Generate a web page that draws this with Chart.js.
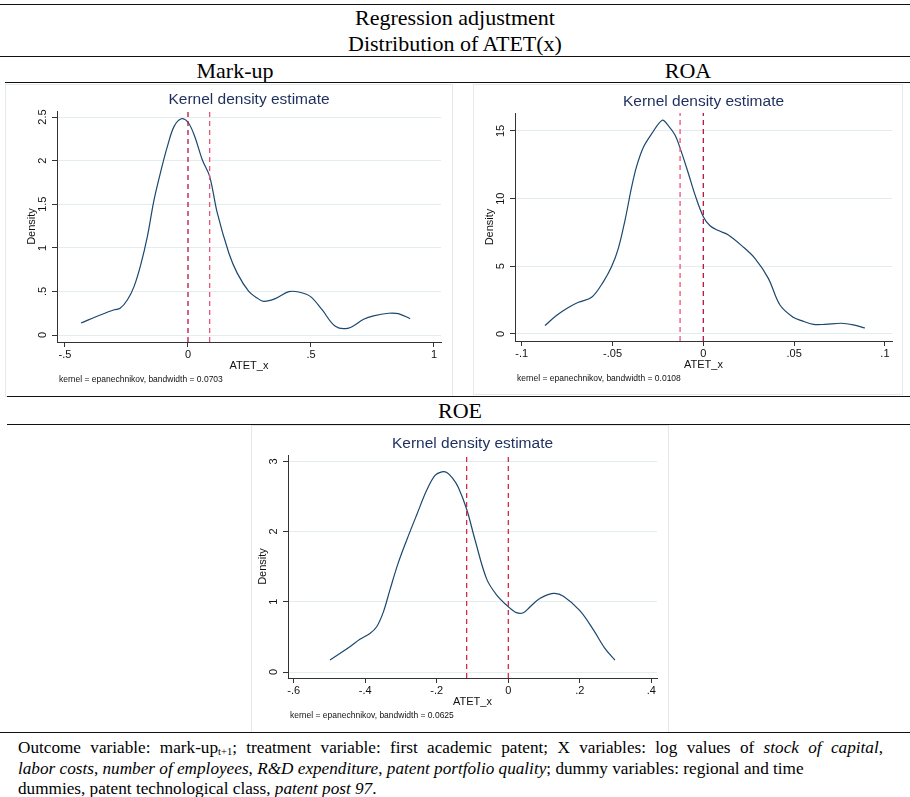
<!DOCTYPE html>
<html>
<head>
<meta charset="utf-8">
<script src="https://cdn.jsdelivr.net/npm/chart.js@4.4.1/dist/chart.umd.min.js"></script>
<style>
  body { margin: 0; background: #fff; }
  #page { position: relative; width: 910px; height: 797px; overflow: hidden;
          font-family: "Liberation Serif", "Times New Roman", serif; color: #000; }
  .rule { position: absolute; height: 0; border-top: 1.5px solid #111; }
  .head { position: absolute; text-align: center; font-size: 22px; line-height: 26px; white-space: nowrap; }
  .panel { position: absolute; background: #fff; border: 1px solid #e3eaea; box-sizing: border-box; }
  canvas { position: absolute; }
  .fn { position: absolute; left: 18px; font-size: 17.2px; line-height: 20px; white-space: nowrap; }
  .fn.just { width: 865px; text-align: justify; text-align-last: justify; }
  .fn sub { font-size: 10.5px; vertical-align: -2px; line-height: 0; }
</style>
</head>
<body>
<div id="page">
  <div class="rule" style="left:0;width:910px;top:4px"></div>
  <div class="head" style="left:0;width:910px;top:5px">Regression adjustment</div>
  <div class="head" style="left:0;width:910px;top:31px">Distribution of ATET(x)</div>
  <div class="rule" style="left:0;width:910px;top:56px"></div>
  <div class="head" style="left:135px;width:200px;top:58px">Mark-up</div>
  <div class="head" style="left:588px;width:200px;top:58px">ROA</div>
  <div class="rule" style="left:5px;width:905px;top:82px"></div>

  <div class="panel" style="left:5px;top:84px;width:448px;height:313px"></div>
  <div class="panel" style="left:473px;top:84px;width:430px;height:311px"></div>
  <canvas id="markup" width="447" height="313" style="left:5px;top:84px"></canvas>
  <canvas id="roa" width="429" height="311" style="left:473px;top:84px"></canvas>

  <div class="rule" style="left:7px;width:903px;top:396px"></div>
  <div class="head" style="left:360px;width:200px;top:398px">ROE</div>
  <div class="rule" style="left:7px;width:903px;top:424px"></div>
  <div class="panel" style="left:251px;top:425px;width:418px;height:308px"></div>
  <canvas id="roe" width="417" height="306" style="left:251px;top:426px"></canvas>
  <div class="rule" style="left:0;width:910px;top:732px"></div>

  <div class="fn just" style="top:738px">Outcome variable: mark-up<sub>t+1</sub>; treatment variable: first academic patent; X variables: log values of <i>stock of capital</i>,</div>
  <div class="fn" style="top:758.5px"><i>labor costs</i>, <i>number of employees</i>, <i>R&amp;D expenditure</i>, <i>patent portfolio quality</i>; dummy variables: regional and time</div>
  <div class="fn" style="top:779px">dummies, patent technological class, <i>patent post 97</i>.</div>
</div>

<script>
// Mark-up
const markupX = [-0.435, -0.354, -0.30, -0.276, -0.246, -0.219, -0.192, -0.165, -0.138, -0.104, -0.084, -0.057, -0.027, 0.0, 0.027, 0.058, 0.088, 0.119, 0.166, 0.20, 0.247, 0.281, 0.308, 0.355, 0.41, 0.45, 0.497, 0.545, 0.599, 0.653, 0.714, 0.754, 0.815, 0.855, 0.903];
const markupY = [0.138, 0.233, 0.29, 0.306, 0.405, 0.558, 0.807, 1.13, 1.55, 1.95, 2.16, 2.39, 2.48, 2.44, 2.28, 2.01, 1.82, 1.40, 0.94, 0.71, 0.50, 0.424, 0.386, 0.417, 0.497, 0.493, 0.443, 0.29, 0.10, 0.08, 0.18, 0.22, 0.25, 0.245, 0.187];
const markupXTicks = [-0.5, 0, 0.5, 1];
const markupYTicks = [0, 0.5, 1, 1.5, 2, 2.5];
const markupLines = [0, 0.088];
const markupNote = "kernel = epanechnikov, bandwidth = 0.0703";

// ROA
const roaX = [-0.0872, -0.0807, -0.0743, -0.0688, -0.0615, -0.055, -0.0505, -0.0468, -0.0431, -0.0394, -0.0367, -0.033, -0.0284, -0.0226, -0.0193, -0.0156, -0.0127, -0.0083, -0.0046, 0.0, 0.0037, 0.0083, 0.0138, 0.0211, 0.0284, 0.0358, 0.0422, 0.0495, 0.0541, 0.0606, 0.067, 0.0761, 0.0826, 0.089];
const roaY = [0.62, 1.38, 1.95, 2.34, 2.71, 3.87, 4.98, 6.33, 8.42, 10.9, 12.4, 13.8, 14.8, 15.8, 15.4, 14.7, 13.7, 11.9, 10.3, 8.67, 8.0, 7.64, 7.32, 6.53, 5.59, 4.11, 2.14, 1.23, 0.985, 0.71, 0.71, 0.79, 0.67, 0.44];
const roaXTicks = [-0.1, -0.05, 0, 0.05, 0.1];
const roaYTicks = [0, 5, 10, 15];
const roaLines = [-0.0128, 0];
const roaNote = "kernel = epanechnikov, bandwidth = 0.0108";

// ROE
const roeX = [-0.4986, -0.443, -0.415, -0.387, -0.368, -0.349, -0.331, -0.308, -0.284, -0.256, -0.228, -0.205, -0.186, -0.172, -0.156, -0.14, -0.116, -0.093, -0.061, -0.033, 0.0, 0.023, 0.042, 0.061, 0.089, 0.126, 0.154, 0.20, 0.238, 0.27, 0.298];
const roeY = [0.171, 0.36, 0.465, 0.55, 0.645, 0.86, 1.17, 1.55, 1.88, 2.24, 2.59, 2.80, 2.85, 2.84, 2.76, 2.63, 2.31, 1.88, 1.33, 1.10, 0.93, 0.845, 0.845, 0.93, 1.05, 1.12, 1.08, 0.873, 0.60, 0.337, 0.171];
const roeXTicks = [-0.6, -0.4, -0.2, 0, 0.2, 0.4];
const roeYTicks = [0, 1, 2, 3];
const roeLines = [-0.1165, 0];
const roeNote = "kernel = epanechnikov, bandwidth = 0.0625";

Chart.defaults.font.family = '"Liberation Sans", Arial, sans-serif';

// stata style labels: .5 instead of 0.5
function fmt(v) {
  return String(+v.toFixed(4)).replace(/^(-?)0\./, "$1.");
}

const X_AXIS_H = 20; // room under the plot for the x tick labels

const stataText = {
  id: "stataText",
  afterDraw(chart, args, o) {
    const ctx = chart.ctx;
    const a = chart.chartArea;
    const ys = chart.scales.y;
    const cx = (a.left + a.right) / 2;
    ctx.save();
    ctx.textAlign = "center";
    ctx.textBaseline = "middle";

    ctx.fillStyle = "#1e2f5e";
    ctx.font = '15.5px "Liberation Sans", Arial, sans-serif';
    ctx.fillText("Kernel density estimate", cx, a.top - 11);

    ctx.fillStyle = "#111";
    ctx.font = '11px "Liberation Sans", Arial, sans-serif';
    o.yTicks.forEach((v) => {
      ctx.save();
      ctx.translate(a.left - 14, ys.getPixelForValue(v));
      ctx.rotate(-Math.PI / 2);
      ctx.fillText(fmt(v), 0, 0);
      ctx.restore();
    });
    ctx.save();
    ctx.translate(a.left - 25, (a.top + a.bottom) / 2);
    ctx.rotate(-Math.PI / 2);
    ctx.fillText("Density", 0, 0);
    ctx.restore();

    ctx.fillText("ATET_x", cx, a.bottom + 24);

    ctx.textAlign = "left";
    ctx.font = '8.5px "Liberation Sans", Arial, sans-serif';
    ctx.fillText(o.note, a.left + 2, a.bottom + 38);
    ctx.restore();
  },
};

function makeChart(id, box, area, xs, ys, xTicks, yTicks, xRange, yRange, vLines, vColors, note) {
  const curve = xs.map((x, i) => ({ x: x, y: ys[i] }));
  const datasets = [];
  vLines.forEach((v, i) => {
    datasets.push({
      data: [{ x: v, y: yRange[0] }, { x: v, y: yRange[1] }],
      borderColor: vColors[i],
      borderWidth: 1.3,
      borderDash: [5, 4],
      pointRadius: 0,
      tension: 0,
    });
  });
  datasets.push({
    data: curve,
    borderColor: "#1a476f",
    borderWidth: 1.2,
    pointRadius: 0,
    tension: 0.35,
  });

  return new Chart(document.getElementById(id), {
    type: "line",
    data: { datasets },
    plugins: [stataText],
    options: {
      responsive: false,
      animation: false,
      devicePixelRatio: 1,
      layout: {
        padding: {
          left: area[0] - box[0],
          top: area[1] - box[1],
          right: box[0] + box[2] - area[2],
          bottom: box[1] + box[3] - area[3] - X_AXIS_H,
        },
      },
      plugins: {
        legend: { display: false },
        tooltip: { enabled: false },
        stataText: { yTicks: yTicks, note: note },
      },
      scales: {
        x: {
          type: "linear",
          min: xRange[0],
          max: xRange[1],
          afterFit: (s) => { s.height = X_AXIS_H; },
          afterBuildTicks: (s) => { s.ticks = xTicks.map((v) => ({ value: v })); },
          grid: { drawOnChartArea: false, drawTicks: true, tickLength: 5, tickColor: "#333" },
          border: { color: "#333", width: 1 },
          ticks: {
            autoSkip: false,
            maxRotation: 0,
            minRotation: 0,
            padding: 1,
            color: "#111",
            font: { size: 11 },
            callback: (v) => fmt(v),
          },
        },
        y: {
          type: "linear",
          min: yRange[0],
          max: yRange[1],
          afterFit: (s) => { s.width = 0; },
          afterBuildTicks: (s) => { s.ticks = yTicks.map((v) => ({ value: v })); },
          grid: { color: "#e4eded", lineWidth: 1, drawTicks: true, tickLength: 5, tickColor: "#333" },
          border: { color: "#333", width: 1 },
          ticks: { color: "rgba(0,0,0,0)", font: { size: 11 }, callback: (v) => fmt(v) },
        },
      },
    },
  });
}

makeChart("markup", [5, 84, 447, 313], [57, 111, 441, 342],
  markupX, markupY, markupXTicks, markupYTicks,
  [-0.5325, 1.0285], [-0.080, 2.569],
  markupLines, ["#b5173f", "#e8557a"], markupNote);

makeChart("roa", [473, 84, 429, 311], [515, 113, 892, 341],
  roaX, roaY, roaXTicks, roaYTicks,
  [-0.1037, 0.1039], [-0.52, 16.33],
  roaLines, ["#e8557a", "#b5173f"], roaNote);

makeChart("roe", [251, 426, 417, 306], [288, 455, 657, 678],
  roeX, roeY, roeXTicks, roeYTicks,
  [-0.616, 0.4157], [-0.085, 3.09],
  roeLines, ["#d42a4a", "#d42a4a"], roeNote);
</script>
</body>
</html>
